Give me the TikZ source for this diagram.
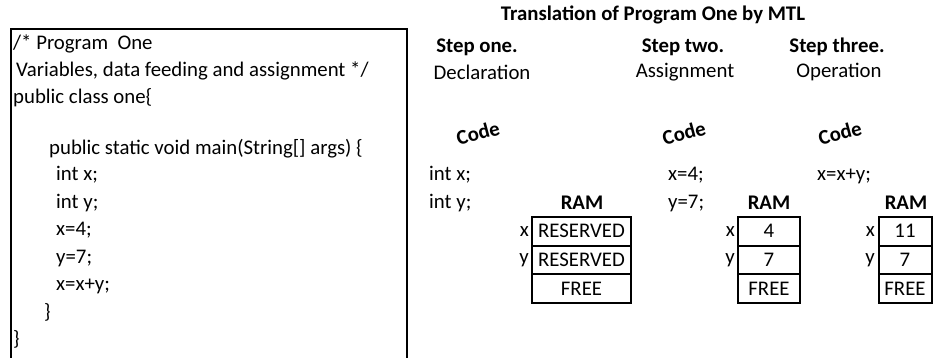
\documentclass[tikz,border=0pt]{standalone}
\usepackage{fontspec}
\setmainfont{Carlito}
\begin{document}
\begin{tikzpicture}[x=1pt,y=-1pt,
  txt/.style={inner sep=0pt,font=\fontsize{20.8}{24}\selectfont},
  bt/.style={txt,font=\fontsize{20.8}{24}\selectfont\bfseries},
  codel/.style={txt,anchor=base west},
  codelbl/.style={bt,rotate=15},
  cell/.style={draw,line width=2pt,inner sep=0pt,minimum height=28.7pt,txt},
  vlbl/.style={txt,anchor=east}]
\useasboundingbox (0,0) rectangle (934,358);
% left program box (bottom beyond picture)
\coordinate (bl) at (11,360);
\coordinate (tl) at (11,29);
\coordinate (tr) at (407,29);
\coordinate (br) at (407,360);
\draw[line width=2pt] (bl) -- (tl) -- (tr) -- (br);
% program text
\node[codel] (l1) at (13,50) {/* Program\ \ One};
\node[codel] (l2) at (16,77) {Variables, data feeding and assignment */};
\node[codel] (l3) at (13,104) {public class one\{};
\node[codel] (l4) at (49,155) {public static void main(String[] args) \{};
\node[codel] (l5) at (56,181) {int x;};
\node[codel] (l6) at (56,209) {int y;};
\node[codel] (l7) at (56,236) {x=4;};
\node[codel] (l8) at (56,263) {y=7;};
\node[codel] (l9) at (56,290) {x=x+y;};
\node[codel] (l10) at (44,318) {\}};
\node[codel] (l11) at (13,345) {\}};
% headings
\node[bt] (title) at (653,15) {Translation of Program One by MTL};
\node[bt] (s1) at (477,47) {Step one.};
\node[bt] (s2) at (683,47) {Step two.};
\node[bt] (s3) at (837,47) {Step three.};
\node[txt] (d1) at (482,72) {Declaration};
\node[txt] (d2) at (685,72) {Assignment};
\node[txt] (d3) at (839,72) {Operation};
\node[codelbl] (c1) at (478,133) {Code};
\node[codelbl] (c2) at (684,133) {Code};
\node[codelbl] (c3) at (840,133) {Code};
% step code
\node[codel] (a1) at (429,181) {int x;};
\node[codel] (a2) at (429,209) {int y;};
\node[codel] (b1) at (668,181) {x=4;};
\node[codel] (b2) at (668,209) {y=7;};
\node[codel] (e1) at (817,181) {x=x+y;};
% RAM 1
\node[bt] (ram1) at (582,203) {RAM};
\node[cell,minimum width=99pt] (m1x) at (581.5,231.3) {RESERVED};
\node[cell,minimum width=99pt] (m1y) at (581.5,260) {RESERVED};
\node[cell,minimum width=99pt] (m1f) at (581.5,288.7) {FREE};
\node[vlbl] (m1xl) at (529,231.3) {x};
\node[vlbl] (m1yl) at (529,260) {y};
% RAM 2
\node[bt] (ram2) at (769,203) {RAM};
\node[cell,minimum width=62pt] (m2x) at (769,231.3) {4};
\node[cell,minimum width=62pt] (m2y) at (769,260) {7};
\node[cell,minimum width=62pt] (m2f) at (769,288.7) {FREE};
\node[vlbl] (m2xl) at (735,231.3) {x};
\node[vlbl] (m2yl) at (735,260) {y};
% RAM 3
\node[bt] (ram3) at (906,203) {RAM};
\node[cell,minimum width=53pt] (m3x) at (905,231.3) {11};
\node[cell,minimum width=53pt] (m3y) at (905,260) {7};
\node[cell,minimum width=53pt] (m3f) at (905,288.7) {FREE};
\node[vlbl] (m3xl) at (875,231.3) {x};
\node[vlbl] (m3yl) at (875,260) {y};
\end{tikzpicture}
\end{document}
